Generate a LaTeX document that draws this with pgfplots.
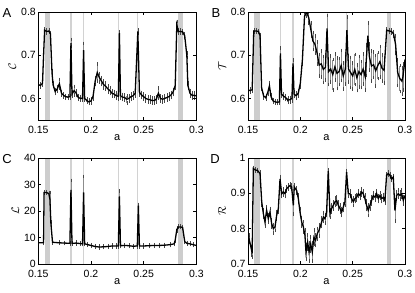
\documentclass[border=0pt]{standalone}
\usepackage{pgfplots}
\usepackage{pgfplotstable}
\pgfplotsset{compat=1.18}
\usepackage{fontspec}
\setmainfont{Liberation Sans}
\definecolor{bandgray}{RGB}{205,205,205}
\definecolor{linegray}{RGB}{210,210,210}
\definecolor{errgray}{RGB}{140,140,140}
\definecolor{capgray}{RGB}{70,70,70}

\pgfplotstableread{
a y e
0.150 0.632 0.004
0.152 0.630 0.004
0.154 0.635 0.004
0.155 0.700 0.004
0.156 0.758 0.003
0.158 0.755 0.003
0.160 0.756 0.003
0.1615 0.750 0.003
0.163 0.660 0.004
0.164 0.632 0.004
0.166 0.616 0.005
0.168 0.622 0.005
0.170 0.634 0.010
0.172 0.612 0.004
0.174 0.607 0.004
0.176 0.604 0.003
0.178 0.603 0.003
0.180 0.604 0.003
0.181 0.728 0.008
0.182 0.610 0.005
0.184 0.618 0.010
0.186 0.612 0.005
0.188 0.602 0.004
0.190 0.600 0.004
0.192 0.600 0.004
0.193 0.712 0.015
0.194 0.600 0.004
0.196 0.595 0.004
0.198 0.592 0.004
0.200 0.594 0.004
0.202 0.605 0.006
0.204 0.640 0.008
0.206 0.660 0.020
0.208 0.648 0.010
0.210 0.640 0.008
0.212 0.632 0.008
0.214 0.628 0.007
0.216 0.622 0.007
0.218 0.618 0.007
0.220 0.612 0.006
0.222 0.610 0.006
0.224 0.606 0.006
0.226 0.605 0.006
0.227 0.751 0.003
0.228 0.606 0.006
0.230 0.603 0.006
0.232 0.602 0.006
0.234 0.598 0.008
0.236 0.600 0.006
0.238 0.604 0.006
0.240 0.606 0.006
0.242 0.612 0.006
0.2445 0.755 0.003
0.246 0.614 0.006
0.248 0.608 0.006
0.250 0.604 0.006
0.252 0.600 0.006
0.254 0.598 0.006
0.256 0.597 0.006
0.258 0.595 0.006
0.260 0.595 0.006
0.262 0.598 0.006
0.264 0.612 0.012
0.266 0.600 0.006
0.268 0.598 0.006
0.270 0.600 0.006
0.272 0.602 0.006
0.274 0.604 0.006
0.276 0.608 0.006
0.278 0.615 0.006
0.280 0.630 0.006
0.2815 0.770 0.008
0.283 0.755 0.003
0.285 0.755 0.003
0.287 0.754 0.003
0.289 0.745 0.004
0.291 0.700 0.005
0.292 0.630 0.006
0.294 0.612 0.006
0.296 0.607 0.006
0.298 0.607 0.006
0.300 0.606 0.006
}\dataA

\pgfplotstableread{
a y e
0.150 0.620 0.004
0.152 0.618 0.004
0.154 0.620 0.004
0.1555 0.756 0.002
0.158 0.756 0.002
0.160 0.755 0.002
0.1615 0.745 0.003
0.163 0.625 0.004
0.165 0.605 0.004
0.167 0.602 0.004
0.169 0.615 0.006
0.1705 0.629 0.008
0.172 0.604 0.004
0.174 0.594 0.003
0.176 0.592 0.003
0.178 0.591 0.003
0.180 0.592 0.003
0.181 0.704 0.012
0.182 0.610 0.005
0.184 0.605 0.005
0.186 0.602 0.005
0.188 0.596 0.005
0.190 0.597 0.005
0.192 0.600 0.006
0.193 0.681 0.008
0.194 0.610 0.006
0.196 0.606 0.006
0.198 0.612 0.006
0.200 0.635 0.008
0.202 0.690 0.010
0.204 0.790 0.010
0.206 0.800 0.010
0.208 0.787 0.012
0.210 0.760 0.015
0.212 0.733 0.020
0.214 0.725 0.020
0.216 0.705 0.025
0.218 0.677 0.025
0.220 0.680 0.030
0.222 0.667 0.030
0.224 0.672 0.030
0.2255 0.762 0.030
0.227 0.662 0.030
0.229 0.668 0.030
0.231 0.655 0.035
0.233 0.673 0.030
0.235 0.658 0.035
0.237 0.662 0.030
0.239 0.676 0.035
0.241 0.652 0.030
0.243 0.668 0.035
0.2445 0.758 0.030
0.246 0.668 0.030
0.248 0.660 0.035
0.250 0.652 0.030
0.252 0.667 0.035
0.254 0.648 0.030
0.256 0.662 0.035
0.258 0.655 0.030
0.260 0.668 0.035
0.262 0.650 0.030
0.263 0.688 0.035
0.2645 0.745 0.030
0.266 0.696 0.030
0.268 0.675 0.035
0.270 0.678 0.030
0.272 0.664 0.035
0.274 0.676 0.030
0.276 0.685 0.035
0.278 0.670 0.030
0.280 0.665 0.030
0.2825 0.758 0.003
0.285 0.756 0.003
0.287 0.755 0.003
0.289 0.750 0.005
0.291 0.725 0.020
0.293 0.660 0.030
0.295 0.646 0.030
0.297 0.640 0.030
0.298 0.650 0.030
0.300 0.690 0.035
}\dataB

\pgfplotstableread{
a y e
0.150 8.0 0.2
0.155 8.0 0.2
0.1555 27.0 0.3
0.158 27.0 0.3
0.160 26.5 0.5
0.161 24.5 2.5
0.162 15.0 0.8
0.1635 8.2 0.3
0.170 8.0 0.2
0.175 7.9 0.2
0.180 7.8 0.2
0.181 28.0 3.5
0.182 7.8 0.3
0.186 7.9 0.3
0.190 7.7 0.3
0.192 7.6 0.3
0.193 27.0 6.0
0.194 7.6 0.3
0.196 7.4 0.3
0.200 7.0 0.3
0.204 6.6 0.3
0.208 6.4 0.3
0.212 6.5 0.3
0.216 6.6 0.3
0.220 6.8 0.3
0.224 6.8 0.3
0.226 6.8 0.3
0.227 25.5 2.0
0.228 6.9 0.3
0.232 7.0 0.3
0.236 6.9 0.3
0.240 6.7 0.3
0.244 6.8 0.3
0.245 22.0 0.5
0.246 6.8 0.3
0.250 6.8 0.3
0.255 6.9 0.3
0.260 7.0 0.3
0.265 7.0 0.3
0.270 7.1 0.3
0.275 7.3 0.3
0.279 7.6 0.3
0.280 9.0 0.4
0.2815 13.0 0.5
0.283 14.0 0.3
0.285 14.0 0.3
0.287 13.8 0.3
0.289 8.5 0.4
0.291 7.8 0.3
0.294 7.6 0.3
0.297 7.3 0.3
0.300 7.0 0.3
}\dataC

\pgfplotstableread{
a y e
0.150 0.786 0.010
0.151 0.772 0.010
0.1535 0.738 0.012
0.154 0.730 0.010
0.1551 0.970 0.003
0.157 0.966 0.003
0.159 0.965 0.003
0.1615 0.956 0.005
0.1631 0.876 0.010
0.1647 0.842 0.010
0.1662 0.819 0.012
0.1678 0.852 0.010
0.1694 0.828 0.010
0.1710 0.847 0.010
0.1726 0.814 0.010
0.1742 0.800 0.012
0.1758 0.805 0.010
0.1774 0.838 0.010
0.1790 0.857 0.010
0.1806 0.941 0.006
0.1822 0.899 0.008
0.1838 0.904 0.008
0.1853 0.899 0.008
0.1869 0.913 0.006
0.1885 0.918 0.005
0.1901 0.922 0.005
0.1917 0.918 0.005
0.1933 0.866 0.025
0.1942 0.918 0.005
0.1965 0.908 0.008
0.1981 0.885 0.010
0.1997 0.847 0.010
0.2013 0.819 0.012
0.2029 0.805 0.015
0.2044 0.781 0.015
0.2054 0.734 0.020
0.2070 0.762 0.020
0.2083 0.734 0.025
0.2099 0.757 0.020
0.2114 0.734 0.025
0.2130 0.776 0.020
0.2146 0.767 0.015
0.2162 0.786 0.015
0.2178 0.795 0.015
0.2204 0.819 0.012
0.2220 0.833 0.012
0.2235 0.828 0.012
0.2251 0.847 0.010
0.2267 0.963 0.004
0.2283 0.842 0.010
0.2299 0.857 0.010
0.2315 0.866 0.010
0.2331 0.876 0.010
0.2347 0.880 0.010
0.2363 0.866 0.010
0.2379 0.857 0.010
0.2395 0.847 0.010
0.2410 0.861 0.010
0.2426 0.876 0.010
0.2442 0.960 0.004
0.2458 0.899 0.008
0.2474 0.899 0.008
0.2490 0.885 0.008
0.2506 0.876 0.010
0.2522 0.885 0.008
0.2538 0.889 0.008
0.2554 0.899 0.008
0.2570 0.894 0.008
0.2586 0.904 0.008
0.2601 0.899 0.008
0.2617 0.885 0.010
0.2633 0.866 0.012
0.2649 0.852 0.015
0.2665 0.866 0.010
0.2681 0.880 0.010
0.2697 0.894 0.008
0.2713 0.889 0.008
0.2729 0.899 0.008
0.2745 0.885 0.008
0.2761 0.894 0.008
0.2777 0.885 0.008
0.2793 0.889 0.008
0.2808 0.880 0.008
0.2824 0.951 0.004
0.2840 0.956 0.004
0.2856 0.951 0.004
0.2872 0.941 0.005
0.2888 0.946 0.005
0.2904 0.851 0.030
0.2920 0.894 0.010
0.2936 0.899 0.010
0.2952 0.894 0.010
0.2968 0.899 0.010
0.2984 0.880 0.010
0.3000 0.894 0.010
}\dataD

\pgfplotsset{
  panel/.style={
    scale only axis,
    axis on top,
    xmin=0.15, xmax=0.3,
    xtick={0.15,0.2,0.25,0.3},
    xticklabels={0.15,0.2,0.25,0.3},
    tick align=inside,
    major tick length=3pt,
    axis line style={black, line width=0.5pt},
    tick style={black, line width=0.4pt},
    scaled ticks=false,
    /pgf/number format/assume math mode=true,
    tick label style={font=\fontsize{10.5}{12}\selectfont, inner sep=0.5pt},
    label style={font=\fontsize{11}{13}\selectfont},
    xlabel={a},
    xlabel style={yshift=3pt},
    ylabel style={yshift=1pt},
    xticklabel style={yshift=-5.5pt},
    yticklabel style={xshift=-1.8pt},
    clip=true,
  },
  errp/.style={draw=none, mark=none, forget plot,
    error bars/.cd, y dir=both, y explicit,
    error mark=-,
    error bar style={errgray, line width=0.6pt},
    error mark options={capgray, mark size=1.8pt, line width=0.5pt}},
  mainp/.style={black, line width=1.3pt, mark=none},
}

\newcommand{\bands}[2]{%
  \fill[bandgray] (axis cs:0.156,#1) rectangle (axis cs:0.161,#2);
  \fill[bandgray] (axis cs:0.2825,#1) rectangle (axis cs:0.287,#2);
  \draw[linegray, line width=1.3pt] (axis cs:0.181,#1) -- (axis cs:0.181,#2);
  \draw[linegray, line width=1.3pt] (axis cs:0.193,#1) -- (axis cs:0.193,#2);
  \draw[linegray, line width=1.3pt] (axis cs:0.2262,#1) -- (axis cs:0.2262,#2);
  \draw[linegray, line width=1.3pt] (axis cs:0.2443,#1) -- (axis cs:0.2443,#2);
}

\begin{document}
\begin{tikzpicture}
\path[use as bounding box] (0,0) rectangle (415pt,292pt);

% A
\begin{axis}[panel, at={(38.3pt,172pt)}, anchor=south west,
  width=158pt, height=108pt,
  ymin=0.55, ymax=0.8, ytick={0.6,0.7,0.8},
  yticklabels={0.6,0.7,0.8},
  ylabel={$\mathcal{C}$}]
\bands{0.55}{0.8}
\addplot[errp] table[x=a,y=y,y error=e]{\dataA};
\addplot[mainp] table[x=a,y=y]{\dataA};
\end{axis}

% B
\begin{axis}[panel, at={(248pt,172pt)}, anchor=south west,
  width=157pt, height=108pt,
  ymin=0.55, ymax=0.8, ytick={0.6,0.7,0.8},
  yticklabels={0.6,0.7,0.8},
  ylabel={$\mathcal{T}$}]
\bands{0.55}{0.8}
\addplot[errp] table[x=a,y=y,y error=e]{\dataB};
\addplot[mainp] table[x=a,y=y]{\dataB};
\end{axis}

% C
\begin{axis}[panel, at={(38.3pt,28pt)}, anchor=south west,
  width=158pt, height=106pt,
  ymin=0, ymax=40, ytick={0,10,20,30,40},
  yticklabels={0,10,20,30,40},
  ylabel={$\mathcal{L}$}]
\bands{0}{40}
\addplot[errp] table[x=a,y=y,y error=e]{\dataC};
\addplot[mainp] table[x=a,y=y]{\dataC};
\end{axis}

% D
\begin{axis}[panel, at={(248pt,28pt)}, anchor=south west,
  width=157pt, height=106pt,
  ymin=0.7, ymax=1, ytick={0.7,0.8,0.9,1},
  yticklabels={0.7,0.8,0.9,1},
  ylabel={$\mathcal{R}$}]
\bands{0.7}{1}
\addplot[errp] table[x=a,y=y,y error=e]{\dataD};
\addplot[mainp] table[x=a,y=y]{\dataD};
\end{axis}

\node[font=\fontsize{13}{15}\selectfont] at (7pt,279pt) {A};
\node[font=\fontsize{13}{15}\selectfont] at (216pt,279pt) {B};
\node[font=\fontsize{13}{15}\selectfont] at (7pt,133pt) {C};
\node[font=\fontsize{13}{15}\selectfont] at (215pt,133pt) {D};
\end{tikzpicture}
\end{document}
